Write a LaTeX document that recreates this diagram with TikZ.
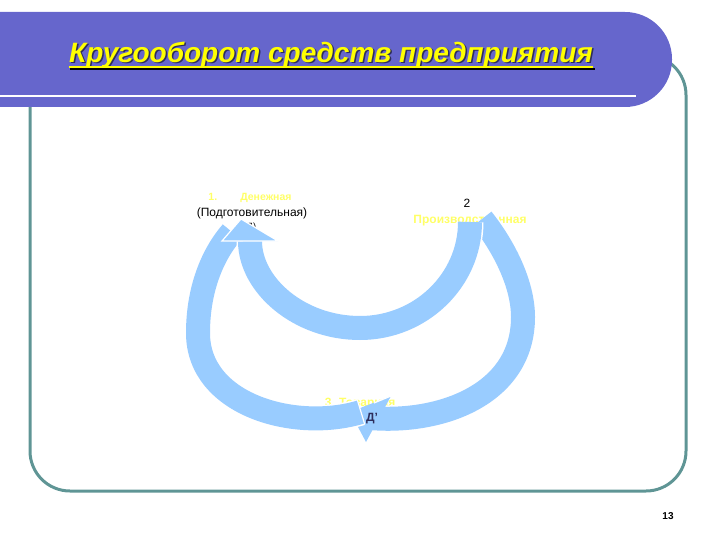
\documentclass[tikz,border=0pt]{standalone}
\usepackage{fontspec}
\setmainfont{Liberation Sans}
\usepackage{tikz}
\definecolor{bar}{HTML}{6666CC}
\definecolor{frame}{HTML}{5F9595}
\definecolor{flow}{HTML}{99CCFF}
\definecolor{gold}{HTML}{FFFF00}
\definecolor{pale}{HTML}{FFFF66}
\definecolor{shade}{HTML}{2E2E5C}
\tikzset{
  box/.style={draw=frame, line width=3pt, rounded corners=40pt},
  band/.style={fill=bar, rounded corners=47pt},
  flowline/.style={draw=white, line width=1.5pt, double=flow, double distance=24pt},
  head/.style={fill=flow, draw=white, line width=1.2pt, line join=miter},
  title/.style={font=\fontsize{28}{30}\selectfont\bfseries\itshape, inner sep=0pt},
  lab/.style={text=black, font=\fontsize{12}{14}\selectfont, inner sep=0pt},
  stage/.style={text=pale, font=\fontsize{12}{14}\selectfont\bfseries, inner sep=0pt},
}
\begin{document}
\begin{tikzpicture}[x=1pt, y=-1pt]
  \useasboundingbox (0,0) rectangle (720,540);
  \clip (0,0) rectangle (720,540);

  \draw[box] (30,55) rectangle (686,491);
  \fill[band] (-60,12) rectangle (672,107);
  \draw[white, line width=2.5pt] (0,96) -- (636,96);

  % title with shadow
  \node[title, text=shade] (tshadow) at (332.5,56.5) {Кругооборот средств предприятия};
  \node[title, text=gold] (ttl) at (331,55) {Кругооборот средств предприятия};
  \draw[shade, line width=1.8pt] ([xshift=1.5pt, yshift=-6.5pt]ttl.base west) -- ([xshift=1.5pt, yshift=-6.5pt]ttl.base east);
  \draw[gold, line width=1.8pt] ([yshift=-5pt]ttl.base west) -- ([yshift=-5pt]ttl.base east);

  % stage labels (partly under the arrows)
  \node[stage, font=\fontsize{10.5}{12}\selectfont\bfseries] (cash) at (250,198) {1.\hspace{2.2em}Денежная};
  \node[stage] (prod) at (470,221) {Производственная};
  \node[stage] (goods) at (360,404) {3. Товарная};
  \node[lab, font=\fontsize{9}{10}\selectfont] (dmark) at (250,227) {(Д)};
  \node[lab, font=\fontsize{9}{10}\selectfont] (pmark) at (465,233) {(П)};

  \coordinate (l0) at (361,412);
  \coordinate (l1) at (198,333);
  \coordinate (l2) at (232,232);
  \coordinate (lc1) at (357.3,399.8);
  \coordinate (lc2) at (364.7,424.2);
  \coordinate (r0) at (482,219);
  \coordinate (r1) at (523,317);
  \coordinate (r2) at (370,418);
  \coordinate (s0) at (470,222);
  \coordinate (s1) at (360,328);
  \coordinate (s2) at (250,241);

  % right big arc, its head tucked under the left one
  \draw[flowline] (r0) .. controls (505,248) and (523,285) .. (r1)
                       .. controls (523,395) and (440,424) .. (r2);
  \fill[flow] (391,396) -- (366,442) -- (350,412) -- cycle;
  \draw[white, line width=1.2pt] (391,396) -- (374,403);
  % left big arc
  \draw[flowline] (l0) .. controls (295,432) and (198,405) .. (l1)
                       .. controls (198,290) and (212,255) .. (l2);
  \draw[white, line width=1.2pt] (lc1) -- (lc2);
  % small upper arc
  \draw[flowline] (s0) .. controls (470,280) and (421,328) .. (s1)
                       .. controls (299,328) and (250,285) .. (s2);
  \fill[head] (222,241) -- (278,241) -- (241,219) -- cycle;

  \node[lab] (prep) at (252,213) {(Подготовительная)};
  \node[lab] (two) at (467,203) {2};
  \node[lab, text=shade, font=\fontsize{12}{14}\selectfont\bfseries] (dd) at (372,419) {Д'};
  \node[lab, font=\fontsize{10}{12}\selectfont\bfseries] (pg) at (668,516) {13};
\end{tikzpicture}
\end{document}
